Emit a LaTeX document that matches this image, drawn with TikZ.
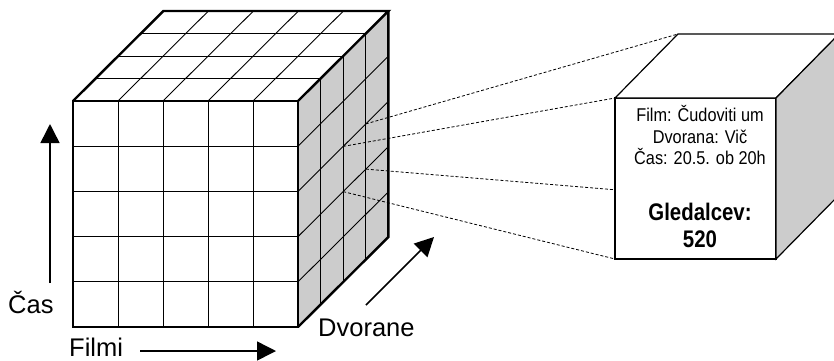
\documentclass[tikz,border=0pt]{standalone}
\usepackage{fontspec}
\setmainfont{Liberation Sans}
\newfontfamily\boxfont[FakeStretch=0.88]{Liberation Sans}
\newfontfamily\boxbold[FakeStretch=0.85]{Liberation Sans}
\usetikzlibrary{arrows.meta}
\definecolor{facegray}{RGB}{204,204,204}
\tikzset{
  gridline/.style={line width=0.9pt, black},
  outline/.style={line width=2.4pt, black, line join=miter},
  dashline/.style={line width=0.8pt, dash pattern=on 3pt off 2pt, black},
  boxline/.style={line width=1.2pt, black, line join=miter},
  axisarrow/.style={line width=1.5pt, -{Triangle[length=19pt,width=19pt]}},
  axislabel/.style={anchor=base west, inner sep=0pt, font=\fontsize{25.5}{29}\selectfont},
  boxtext/.style={anchor=base, inner sep=0pt, font=\boxfont\fontsize{18.5}{22}\selectfont},
  boxbig/.style={anchor=base, inner sep=0pt, font=\boxbold\bfseries\fontsize{24}{28}\selectfont}
}
\begin{document}
\begin{tikzpicture}[x=1pt,y=-1pt]
\useasboundingbox (0,0) rectangle (834,360);
\clip (0,0) rectangle (834,360);
% big cube corners
\coordinate (A) at (73,101);
\coordinate (B) at (298,101);
\coordinate (C) at (298,327);
\coordinate (D) at (73,327);
\coordinate (E) at (163.4,11);
\coordinate (F) at (388.4,11);
\coordinate (G) at (388.4,237);
% right face fill
\fill[facegray] (B) -- (F) -- (G) -- (C) -- cycle;
% grid lines
\foreach \i in {1,...,4} {
  \draw[gridline] (73+45*\i,101) -- (73+45*\i,327);
  \draw[gridline] (73,101+45.2*\i) -- (298,101+45.2*\i);
  \draw[gridline] (73+45*\i,101) -- ++(90.4,-90);
  \draw[gridline] (298,101+45.2*\i) -- ++(90.4,-90);
}
\foreach \k in {1,...,3} {
  \draw[gridline] (73+22.6*\k,101-22.5*\k) -- ++(225,0);
  \draw[gridline] (298+22.6*\k,101-22.5*\k) -- ++(0,226);
}
% thick outline
\draw[outline] (A) rectangle (C);
\draw[outline] (A) -- (E) -- (F) -- (B);
\draw[outline] (F) -- (G) -- (C);
% cell corner points on right face
\coordinate (P1) at (365.8,123.9);
\coordinate (P2) at (343.2,146.4);
\coordinate (P3) at (365.8,169.1);
\coordinate (P4) at (343.2,191.6);
% small box corners
\coordinate (a) at (615,98);
\coordinate (b) at (776,98);
\coordinate (c) at (776,259);
\coordinate (d) at (615,259);
\coordinate (e) at (678,34);
\coordinate (f) at (839,34);
\coordinate (g) at (839,195);
\coordinate (h) at (678,195);
% dashed projection lines
\draw[dashline] (P1) -- (e);
\draw[dashline] (P2) -- (a);
\draw[dashline] (P3) -- (h);
\draw[dashline] (P4) -- (d);
% small box
\filldraw[boxline, fill=white] (a) rectangle (c);
\filldraw[boxline, fill=white] (a) -- (e) -- (f) -- (b) -- cycle;
\filldraw[boxline, fill=facegray] (b) -- (f) -- (g) -- (c) -- cycle;
% box texts
\node[boxtext] (t1) at (700,121.7) {Film: Čudoviti um};
\node[boxtext] (t2) at (700,143) {Dvorana: Vič};
\node[boxtext] (t3) at (700,164.5) {Čas: 20.5. ob 20h};
\node[boxbig] (t4) at (700,220.7) {Gledalcev:};
\node[boxbig] (t5) at (700,247) {520};
% axis arrows
\coordinate (cas0) at (50,283);
\coordinate (cas1) at (50,124);
\coordinate (fil0) at (140,351);
\coordinate (fil1) at (276,351);
\coordinate (dvo0) at (366,305);
\coordinate (dvo1) at (434,237);
\draw[axisarrow] (cas0) -- (cas1);
\draw[axisarrow] (fil0) -- (fil1);
\draw[axisarrow] (dvo0) -- (dvo1);
% axis labels
\node[axislabel] (lcas) at (8,313) {Čas};
\node[axislabel] (lfil) at (69,356) {Filmi};
\node[axislabel] (ldvo) at (318,336.5) {Dvorane};
\end{tikzpicture}
\end{document}
